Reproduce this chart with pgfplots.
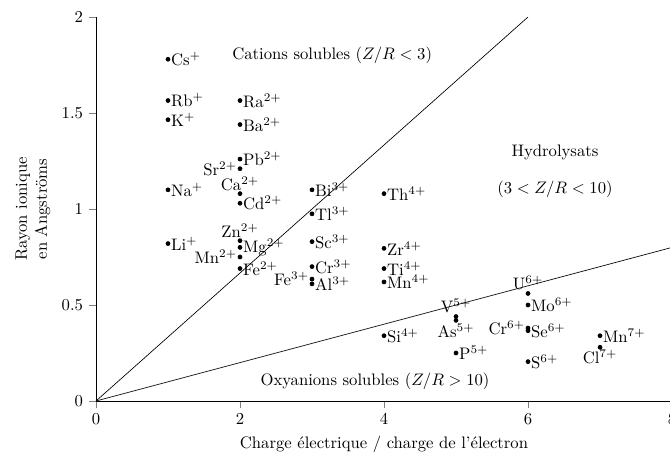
\documentclass[border=0pt]{standalone}
\usepackage{pgfplots}
\pgfplotsset{compat=1.18}
\pgfplotsset{
  lab/.style={only marks, mark=*, mark size=1.2pt, black,
    point meta=explicit symbolic, nodes near coords,
    every node near coord/.append style={anchor=#1, inner sep=1.7pt, font=\normalsize, black}},
}
\begin{document}
\begin{tikzpicture}
\begin{axis}[
  x=43.2pt, y=115.2pt,
  xmin=0, xmax=8, ymin=0, ymax=2,
  axis lines*=left,
  tick align=outside,
  xtick={0,2,4,6,8}, ytick={0,0.5,1,1.5,2},
  xlabel={Charge électrique / charge de l'électron},
  ylabel={Rayon ionique\\en Angströms},
  ylabel style={align=center},
  clip=false,
]
\coordinate (O) at (axis cs:0,0);
\addplot[black, line width=0.4pt] coordinates {(0,0) (6,2)};
\addplot[black, line width=0.4pt] coordinates {(0,0) (8,0.8)};
\addplot[lab=west] coordinates {
(1,1.78) [Cs$^{+}$]
(1,1.565) [Rb$^{+}$]
(1,1.465) [K$^{+}$]
(1,1.10) [Na$^{+}$]
(1,0.82) [Li$^{+}$]
(2,1.565) [Ra$^{2+}$]
(2,1.44) [Ba$^{2+}$]
(2,1.26) [Pb$^{2+}$]
(2,1.03) [Cd$^{2+}$]
(2,0.80) [Mg$^{2+}$]
(2,0.69) [Fe$^{2+}$]
(3,1.10) [Bi$^{3+}$]
(3,0.975) [Tl$^{3+}$]
(3,0.83) [Sc$^{3+}$]
(3,0.70) [Cr$^{3+}$]
(3,0.61) [Al$^{3+}$]
(4,1.08) [Th$^{4+}$]
(4,0.795) [Zr$^{4+}$]
(4,0.69) [Ti$^{4+}$]
(4,0.62) [Mn$^{4+}$]
(4,0.34) [Si$^{4+}$]
(5,0.25) [P$^{5+}$]
(6,0.50) [Mo$^{6+}$]
(6,0.366) [Se$^{6+}$]
(6,0.205) [S$^{6+}$]
(7,0.34) [Mn$^{7+}$]
};
\addplot[lab=east] coordinates {
(2,1.21) [Sr$^{2+}$]
(2,0.75) [Mn$^{2+}$]
(3,0.635) [Fe$^{3+}$]
(6,0.38) [Cr$^{6+}$]
};
\addplot[lab=south] coordinates {
(2,1.08) [Ca$^{2+}$]
(2,0.835) [Zn$^{2+}$]
(5,0.44) [V$^{5+}$]
(6,0.56) [U$^{6+}$]
};
\addplot[lab=north] coordinates {
(5,0.42) [As$^{5+}$]
(7,0.28) [Cl$^{7+}$]
};
\node at (axis cs:3.28,1.80) {Cations solubles ($Z/R<3$)};
\node at (axis cs:6.375,1.297) {Hydrolysats};
\node at (axis cs:6.375,1.104) {($3<Z/R<10$)};
\node at (axis cs:3.875,0.104) {Oxyanions solubles ($Z/R>10$)};
\end{axis}
\pgfresetboundingbox
\path[use as bounding box] ([shift={(-57.6pt,-33pt)}]O) rectangle ([shift={(344.4pt,240.6pt)}]O);
\end{tikzpicture}
\end{document}
